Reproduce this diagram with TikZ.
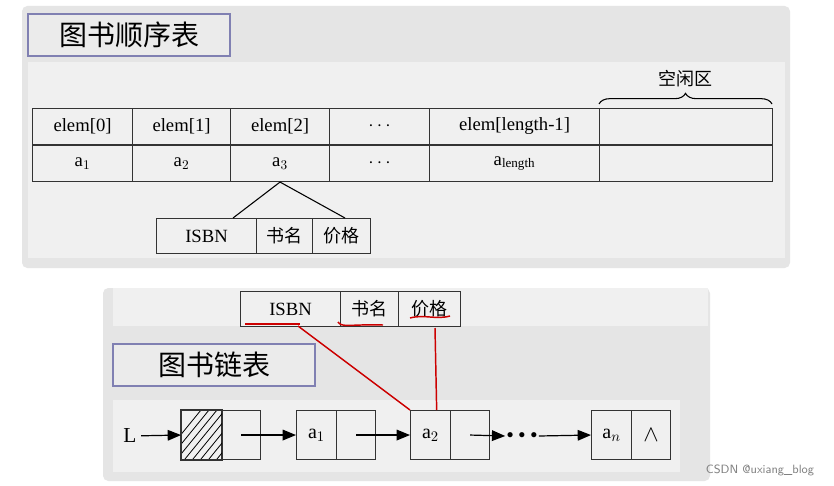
\documentclass[tikz,border=0pt]{standalone}
\usepackage{fontspec}
\setmainfont{Liberation Serif}
\newfontfamily\cjk{Noto Sans CJK SC}
\usetikzlibrary{patterns,decorations.pathreplacing,arrows.meta}
\tikzset{
 cell/.style={draw=black!80,line width=0.8pt,minimum height=36\pxu,inner sep=0pt,font=\fontsize{14}{16}\selectfont},
 panel/.style={fill=black!10,rounded corners=4pt,draw=none},
 band/.style={fill=black!6,draw=none},
 titlebox/.style={draw=blue!25!gray!80,line width=1pt,fill=black!8,font=\cjk\fontsize{21}{23}\selectfont,inner sep=0pt},
 arr/.style={-{Triangle[length=10pt,width=8pt]},line width=0.9pt},
 redl/.style={draw=red!80!black,line width=1.1pt}
}
\newlength\pxu \setlength\pxu{0.75pt}
\begin{document}
\begin{tikzpicture}[x=0.75pt,y=-0.75pt]
\useasboundingbox[fill=white] (0,0) rectangle (834,485);
% top panel
\fill[panel] (22,6) rectangle (790,268);
\fill[band] (28,62) rectangle (785,258);
\node[titlebox,minimum width=202\pxu,minimum height=42\pxu] (t1) at (129,35) {图书顺序表};
% table
\foreach \x/\w/\t/\b/\n in {32/100/elem[0]/a$_1$/0,132/98/elem[1]/a$_2$/1,230/99/elem[2]/a$_3$/2,329/100/$\cdots$/$\cdots$/3,429/170/elem[length-1]/a$_{\mathrm{length}}$/4,599/173/{}/{}/5}{
 \node[cell,minimum width=\w\pxu,anchor=north west] (h\n) at (\x,108) {\t};
 \node[cell,minimum width=\w\pxu,anchor=north west,minimum height=36\pxu] (r\n) at (\x,145) {\b};
}
\draw[decorate,decoration={brace,amplitude=8pt},line width=0.8pt] (h5.north west)++(0,-4) -- ++(173,0) node[midway,above=9pt,font=\cjk\fontsize{13.5}{15}\selectfont] (kx) {空闲区};
\node[cell,minimum width=100\pxu,anchor=north west,minimum height=35\pxu] (s1) at (156,218) {ISBN};
\node[cell,minimum width=56\pxu,anchor=north west,minimum height=35\pxu,font=\cjk\fontsize{13.5}{15}\selectfont] (s2) at (256,218) {书名};
\node[cell,minimum width=58\pxu,anchor=north west,minimum height=35\pxu,font=\cjk\fontsize{13.5}{15}\selectfont] (s3) at (312,218) {价格};
\coordinate (s1t) at (233,218);
\coordinate (s3t) at (345,218);
\draw[line width=0.8pt] (s1t) -- (r2.south) -- (s3t);
% bottom panel
\fill[panel] (103,288) rectangle (710,481);
\fill[band] (113,288) rectangle (708,326);
\node[cell,minimum width=100\pxu,anchor=north west,minimum height=35\pxu] (b1) at (240,291) {ISBN};
\node[cell,minimum width=58\pxu,anchor=north west,minimum height=35\pxu,font=\cjk\fontsize{13.5}{15}\selectfont] (b2) at (340,291) {书名};
\node[cell,minimum width=62\pxu,anchor=north west,minimum height=35\pxu,font=\cjk\fontsize{13.5}{15}\selectfont] (b3) at (398,291) {价格};
\node[titlebox,minimum width=202\pxu,minimum height=42\pxu] (t2) at (214,365) {图书链表};
\fill[band] (113,400) rectangle (680,472);
% list nodes
\foreach \x/\t/\n in {181/{}/0,296/a$_1$/1,410/a$_2$/2,591/a$_n$/3}{
 \node[cell,minimum width=40\pxu,minimum height=49\pxu,anchor=north west,font=\fontsize{15}{17}\selectfont] (d\n) at (\x,410) {\t};
 \node[cell,minimum width=39\pxu,minimum height=49\pxu,anchor=north west,font=\fontsize{16}{17}\selectfont] (p\n) at (\x+40,410) {\ifnum\n=3 $\wedge$\fi};
}
\begin{scope}
\clip (d0.north west) rectangle (d0.south east);
\foreach \i in {0,...,9} \draw[line width=0.6pt] (181+\i*8-20,459) -- ++(40,-49);
\end{scope}
\draw[line width=0.8pt,draw=black!80] (d0.north west) rectangle (d0.south east);
\node[font=\fontsize{16}{18}\selectfont] (L) at (130,436) {L};
\node[font=\fontsize{10}{12}\selectfont,inner sep=1pt] (dots) at (522,436) {$\bullet\,\bullet\,\bullet$};
\draw[arr] (L) -- (d0.west);
\draw[arr] (p0.center) -- (d1.west);
\draw[arr] (p1.center) -- (d2.west);
\draw[arr] (p2.center) -- (dots.west);
\draw[arr] (dots.east) -- (d3.west);
% red marks
\draw[redl] (245,324) -- (300,324);
\draw[redl] (338,322) .. controls (342,328) and (350,324) .. (383,325);
\draw[redl] (410,318) .. controls (425,314) and (435,320) .. (450,316);
\coordinate (ra) at (298,326);
\coordinate (rb) at (435,328);
\draw[redl] (ra) -- (d2.north west);
\draw[redl] (rb) -- ([xshift=20]d2.north west);
\node[text=black!50,font=\fontsize{9}{10}\selectfont\sffamily] (wm) at (760,470) {CSDN @uxiang\_blog};
\end{tikzpicture}
\end{document}
